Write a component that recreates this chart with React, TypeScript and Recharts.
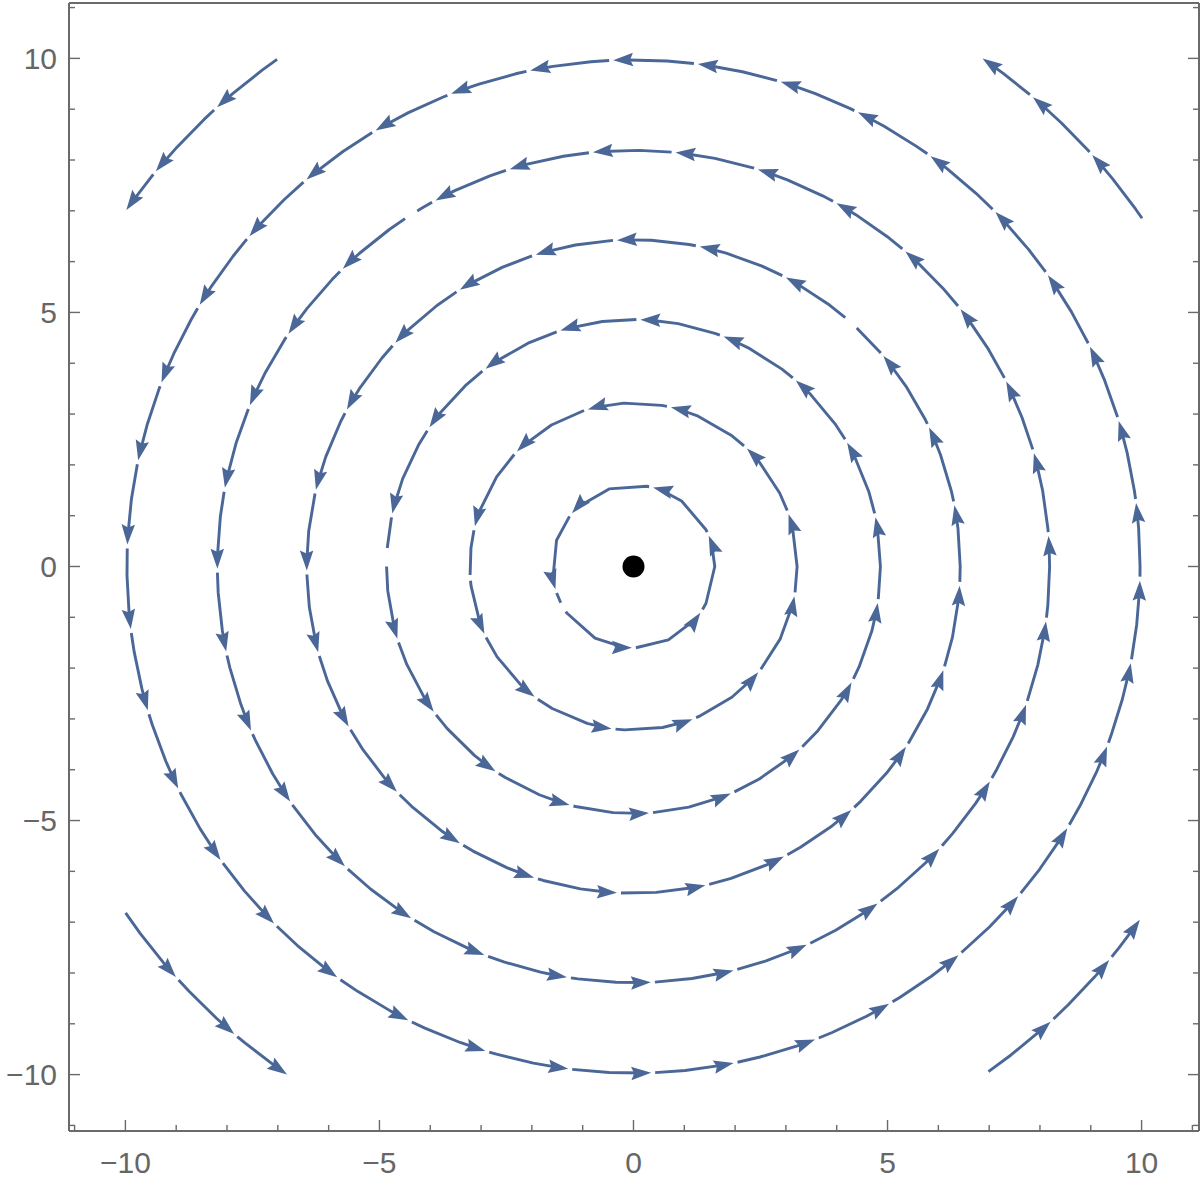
import React from "react";
import { ComposedChart, Line, Scatter, XAxis, YAxis } from "recharts";

const STREAM = "#4a6797";
const FRAME = "#6a6a6a";
const LABEL = "#666666";
const FONT = "'Liberation Sans', Arial, sans-serif";

const X_DOMAIN: [number, number] = [-11.11, 11.13];
const Y_DOMAIN: [number, number] = [-11.11, 11.09];
const AXIS_TICKS = [-11, -10, -9, -8, -7, -6, -5, -4, -3, -2, -1, 0, 1, 2, 3, 4, 5, 6, 7, 8, 9, 10, 11];
const LABELED_TICKS = [-10, -5, 0, 5, 10];

// closed stream rings around the origin (radius in data units)
const ringRadii = [1.6, 3.22, 4.86, 6.43, 8.19, 9.97];
// angle (deg, counter-clockwise from +x) of every arrow tip on each ring
const ringArrows = [
  [22.2, 76.1, 139.1, 196.2, 268.9, 325.3],
  [18.6, 46.1, 76.8, 106.2, 135.4, 165.8, 204.3, 232.8, 262.3, 291.1, 319.7, 349.5],
  [11.5, 30.1, 48.9, 68.6, 88.4, 107.2, 126.8, 145.7, 167.6, 197, 216, 236, 255, 273.6, 293.2, 312.2, 332, 351.5],
  [10.8, 25.2, 40.1, 62.2, 78.3, 92.9, 107.4, 122.1, 136.8, 151.3, 166.4, 180.7, 195.2, 209.3, 223.6, 237.9, 252.3,
    267.1, 282.7, 297.4, 311.8, 326.5, 341.5, 356.6],
  [4.2, 15.8, 26.4, 38.2, 49.2, 60.8, 72.6, 84.2, 95.6, 107.3, 118.4, 134.3, 146.0, 157.2, 169.1, 180.3, 191.8, 203.2,
    214.4, 226.1, 237.7, 249.0, 260.8, 272.4, 283.9, 294.6, 305.9, 317.3, 328.9, 340.6, 352.4],
  [7.2, 16.7, 25.7, 35.1, 44.4, 54.1, 63.7, 73.1, 82.7, 92.3, 101.75, 111.1, 120.6, 130.2, 139.3, 148.9, 158.7, 167.9,
    177.5, 187.1, 196.5, 206.0, 215.4, 224.8, 234.2, 243.6, 253.0, 262.6, 272.0, 281.4, 291.0, 300.3, 309.9, 319.4,
    328.9, 339.2, 349.0, 358.4],
];
// short break where each ring's streamline closes on itself
const ringSeams: ([number, number] | null)[] = [
  [206.5, 213.7], [183, 185], [175.7, 180], [46.9, 49.6], [121.3, 123.3], null,
];

// open arcs in the four corners
const cornerRadii = [12.2, 12.13, 12.1, 12.15];
const cornerStarts = [125.1, 34.4, 214.3, 305.1];
const cornerArrows = [
  [132.2, 140.4, 144.9],
  [41.9, 49.6, 55.5],
  [221.9, 229.5, 235.7],
  [312.5, 320.4, 325.1],
];

const UNIT_PX = 50.8;
const GAP = 4 / UNIT_PX; // white gap after an arrow tip
const BACK = 9 / UNIT_PX; // line stops under the arrow head
const VERTEX = 0.75; // streamline step length

const rad = (d: number) => (d * Math.PI) / 180;

type Pt = { x: number; y: number | null; rot?: number };

function arcPoints(r: number, a0: number, a1: number): Pt[] {
  const step = (VERTEX / r) * (180 / Math.PI);
  const angles = [a0];
  let k = Math.floor(a0 / step) + 1;
  while (k * step < a1) {
    angles.push(k * step);
    k++;
  }
  angles.push(a1);
  return angles.map((a) => ({ x: r * Math.cos(rad(a)), y: r * Math.sin(rad(a)) }));
}

function splitAtSeam(s: number, e: number, seam: [number, number] | null): [number, number][] {
  if (!seam) return [[s, e]];
  for (const off of [-360, 0, 360]) {
    const p = seam[0] + off;
    const q = seam[1] + off;
    if (p > s && q < e) return [[s, p], [q, e]];
  }
  return [[s, e]];
}

function buildLine(r: number, tips: number[], start: number | null, seam: [number, number] | null): Pt[] {
  const gapDeg = (GAP / r) * (180 / Math.PI);
  const backDeg = (BACK / r) * (180 / Math.PI);
  const pieces: [number, number][] = [];
  tips.forEach((b, k) => {
    let s: number;
    if (k === 0) s = start === null ? tips[tips.length - 1] - 360 + gapDeg : start;
    else s = tips[k - 1] + gapDeg;
    pieces.push(...splitAtSeam(s, b - backDeg, seam));
  });
  const out: Pt[] = [];
  pieces.forEach(([s, e]) => {
    const pts = arcPoints(r, s, e);
    out.push(...pts, { x: pts[pts.length - 1].x, y: null });
  });
  return out;
}

function arrowData(r: number, tips: number[]): Pt[] {
  return tips.map((t) => ({ x: r * Math.cos(rad(t)), y: r * Math.sin(rad(t)), rot: -(t + 90) }));
}

const streamLines = [
  ...ringRadii.map((r, i) => buildLine(r, ringArrows[i], null, ringSeams[i])),
  ...cornerRadii.map((r, i) => buildLine(r, cornerArrows[i], cornerStarts[i], null)),
];
const arrowHeads = [
  ...ringRadii.flatMap((r, i) => arrowData(r, ringArrows[i])),
  ...cornerRadii.flatMap((r, i) => arrowData(r, cornerArrows[i])),
];
const origin = [{ x: 0, y: 0 }];

function ArrowHead(props: any) {
  const { cx, cy, payload } = props;
  if (cx == null || cy == null) return null;
  const L = 20;
  const W = 13.5;
  return (
    <path
      d={`M0,0 L${-L},${-W / 2} L${-L * 0.85},0 L${-L},${W / 2} Z`}
      transform={`translate(${cx},${cy}) rotate(${payload.rot})`}
      fill={STREAM}
    />
  );
}

function OriginDot(props: any) {
  const { cx, cy } = props;
  return <circle cx={cx} cy={cy} r={11} fill="#000" />;
}

const fmt = (v: number) => (v < 0 ? `\u2212${Math.abs(v)}` : `${v}`);
const tickLen = (v: number) => (LABELED_TICKS.includes(v) ? 11 : 6);

function BottomTick({ x, y, payload }: any) {
  const v = payload.value;
  return (
    <g>
      <line x1={x} x2={x} y1={y} y2={y - tickLen(v)} stroke={FRAME} strokeWidth={1.4} />
      {LABELED_TICKS.includes(v) && (
        <text x={x} y={y + 42} textAnchor="middle" fill={LABEL} fontSize={30} fontFamily={FONT}>
          {fmt(v)}
        </text>
      )}
    </g>
  );
}

function TopTick({ x, y, payload }: any) {
  return <line x1={x} x2={x} y1={y} y2={y + tickLen(payload.value)} stroke={FRAME} strokeWidth={1.4} />;
}

function LeftTick({ x, y, payload }: any) {
  const v = payload.value;
  return (
    <g>
      <line x1={x} x2={x + tickLen(v)} y1={y} y2={y} stroke={FRAME} strokeWidth={1.4} />
      {LABELED_TICKS.includes(v) && (
        <text x={x - 12} y={y + 10.5} textAnchor="end" fill={LABEL} fontSize={30} fontFamily={FONT}>
          {fmt(v)}
        </text>
      )}
    </g>
  );
}

function RightTick({ x, y, payload }: any) {
  return <line x1={x} x2={x - tickLen(payload.value)} y1={y} y2={y} stroke={FRAME} strokeWidth={1.4} />;
}

export default function App() {
  const axisLine = { stroke: FRAME, strokeWidth: 2 };
  return (
    <div style={{ position: "absolute", left: 0, top: 0, background: "#fff" }}>
      <ComposedChart width={1201} height={1184} margin={{ top: 0, right: 0, bottom: 0, left: 0 }}>
        <XAxis
          dataKey="x"
          type="number"
          domain={X_DOMAIN}
          allowDataOverflow
          ticks={AXIS_TICKS}
          interval={0}
          height={53}
          tickSize={0}
          tickMargin={0}
          tickLine={false}
          axisLine={axisLine}
          tick={(p: any) => <BottomTick {...p} />}
        />
        <XAxis
          xAxisId="top"
          orientation="top"
          type="number"
          domain={X_DOMAIN}
          allowDataOverflow
          ticks={AXIS_TICKS}
          interval={0}
          height={3}
          tickSize={0}
          tickMargin={0}
          tickLine={false}
          axisLine={axisLine}
          tick={(p: any) => <TopTick {...p} />}
        />
        <YAxis
          dataKey="y"
          type="number"
          domain={Y_DOMAIN}
          allowDataOverflow
          ticks={AXIS_TICKS}
          interval={0}
          width={69}
          tickSize={0}
          tickMargin={0}
          tickLine={false}
          axisLine={axisLine}
          tick={(p: any) => <LeftTick {...p} />}
        />
        <YAxis
          yAxisId="right"
          orientation="right"
          type="number"
          domain={Y_DOMAIN}
          allowDataOverflow
          ticks={AXIS_TICKS}
          interval={0}
          width={2}
          tickSize={0}
          tickMargin={0}
          tickLine={false}
          axisLine={axisLine}
          tick={(p: any) => <RightTick {...p} />}
        />
        {streamLines.map((pts, i) => (
          <Line
            key={`stream-${i}`}
            data={pts}
            dataKey="y"
            type="linear"
            stroke={STREAM}
            strokeWidth={2.9}
            strokeLinejoin="round"
            dot={false}
            activeDot={false}
            connectNulls={false}
            isAnimationActive={false}
          />
        ))}
        <Scatter data={arrowHeads} shape={(p: any) => <ArrowHead {...p} />} isAnimationActive={false} />
        <Scatter data={origin} shape={(p: any) => <OriginDot {...p} />} isAnimationActive={false} />
      </ComposedChart>
    </div>
  );
}
